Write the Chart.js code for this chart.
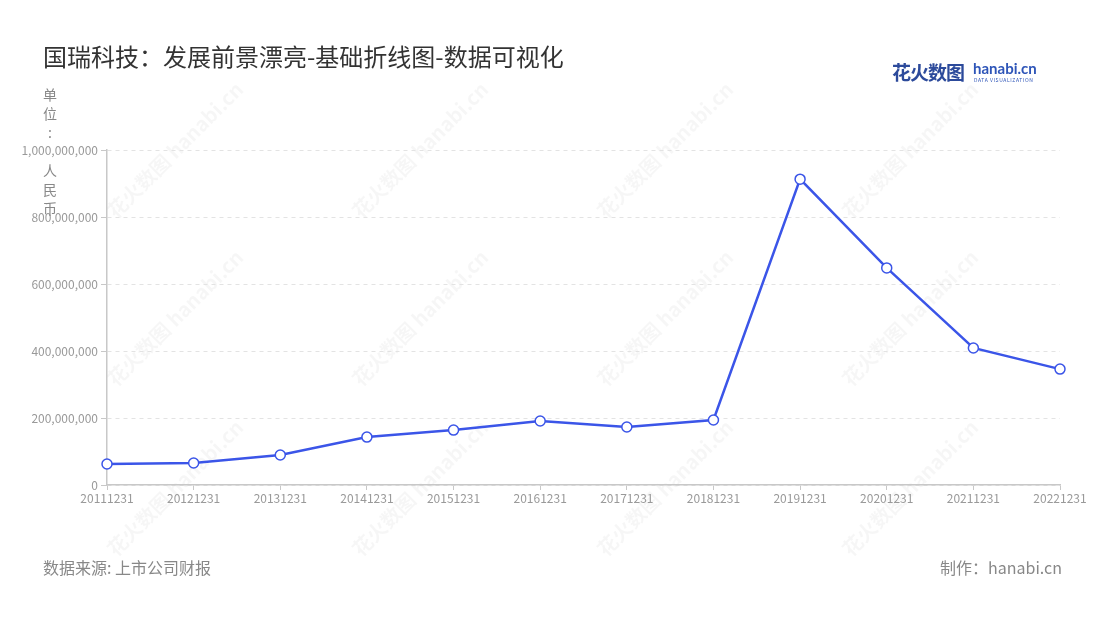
<!DOCTYPE html>
<html>
<head>
<meta charset="utf-8">
<script src="https://cdn.jsdelivr.net/npm/chart.js@4/dist/chart.umd.min.js"></script>
<style>
  body { margin: 0; background: #fff; font-family: "Noto Sans CJK SC", "Noto Sans", sans-serif; }
  #wrap { position: relative; width: 1100px; height: 620px; overflow: hidden; }
  #myChart { position: absolute; left: 0; top: 0; }
  .title { position: absolute; left: 43px; top: 38px; font-size: 24px; color: #333; }
  .unit { position: absolute; left: 42px; top: 85px; width: 16px; font-size: 14px; line-height: 19px; color: #888; text-align: center; }
  .src { position: absolute; left: 43px; top: 555px; font-size: 16px; color: #888; }
  .made { position: absolute; right: 38px; top: 555px; font-size: 16px; color: #888; }
  .logo { position: absolute; left: 892px; top: 58px; color: #2c4a9b; white-space: nowrap; }
  .logo .cn { font-size: 19px; font-weight: bold; letter-spacing: -1px; }
  .logo .en { position: absolute; left: 81px; top: 1px; font-size: 15px; font-weight: bold; color: #2e55b8; font-family: "Lato", sans-serif; }
  .logo .sub { position: absolute; left: 82px; top: 18px; font-size: 5px; letter-spacing: 0.6px; color: #2e55b8; }
</style>
</head>
<body>
<div id="wrap">
  <canvas id="myChart" width="1100" height="620"></canvas>
  <div class="title">国瑞科技：发展前景漂亮-基础折线图-数据可视化</div>
  <div class="unit">单<br>位<br>:<br>&nbsp;<br>人<br>民<br>币</div>
  <div class="logo"><span class="cn">花火数图</span><span class="en">hanabi.cn</span><span class="sub">DATA VISUALIZATION</span></div>
  <div class="src">数据来源: 上市公司财报</div>
  <div class="made">制作：hanabi.cn</div>
</div>
<script>
// 报告期
const periods = ['20111231', '20121231', '20131231', '20141231', '20151231', '20161231',
  '20171231', '20181231', '20191231', '20201231', '20211231', '20221231'];
// 数值（人民币）
const values = [62700000, 65700000, 89600000, 143000000, 164000000, 191000000,
  173000000, 194000000, 913000000, 648000000, 409000000, 346000000];
const yTicks = [0, 200000000, 400000000, 600000000, 800000000, 1000000000];

const lineColor = 'rgb(59, 85, 232)';

// faint watermark like the original
const watermark = {
  id: 'watermark',
  beforeDraw(chart) {
    const c = chart.ctx;
    c.save();
    c.fillStyle = 'rgba(0,0,0,0.035)';
    c.font = 'bold 20px "Noto Sans CJK SC"';
    const xs = [175, 420, 665, 910];
    const ys = [150, 318, 488];
    xs.forEach(x => ys.forEach(y => {
      c.save();
      c.translate(x, y);
      c.rotate(-Math.PI / 4);
      c.textAlign = 'center';
      c.textBaseline = 'middle';
      c.fillText('花火数图 hanabi.cn', 0, 0);
      c.restore();
    }));
    c.restore();
  }
};

const config = {
  type: 'line',
  data: {
    labels: periods,
    datasets: [{
      data: values,
      borderColor: lineColor,
      borderWidth: 2.5,
      backgroundColor: '#fff',
      pointBackgroundColor: '#fff',
      pointBorderColor: lineColor,
      pointBorderWidth: 1.5,
      pointRadius: 5,
      tension: 0,
      fill: false
    }]
  },
  options: {
    responsive: false,
    animation: false,
    layout: { padding: { top: 150, left: 0, right: 40, bottom: 105 } },
    plugins: {
      legend: { display: false },
      tooltip: { enabled: false }
    },
    scales: {
      x: {
        offset: false,
        afterFit(scale) { scale.height = 30; },
        border: { color: '#c8c8c8', width: 1.5 },
        grid: { drawOnChartArea: false, tickLength: 5, color: '#c8c8c8', tickColor: '#c8c8c8' },
        ticks: {
          color: '#999',
          font: { size: 12, family: 'Noto Sans CJK SC' },
          maxRotation: 0,
          autoSkip: false,
          padding: 1
        }
      },
      y: {
        min: 0,
        max: 1000000000,
        afterFit(scale) { scale.width = 107; },
        afterBuildTicks(scale) { scale.ticks = yTicks.map(v => ({ value: v })); },
        border: { color: '#c8c8c8', width: 1.5, dash: [4, 4] },
        grid: {
          color: '#e3e3e3',
          tickColor: '#c8c8c8',
          tickBorderDash: [],
          tickLength: 6,
          lineWidth: 1
        },
        ticks: {
          color: '#999',
          font: { size: 12, family: 'Noto Sans CJK SC' },
          padding: 3,
          callback: v => v.toLocaleString('en-US')
        }
      }
    }
  },
  plugins: [watermark]
};

const ctx = document.getElementById('myChart').getContext('2d');
const chart = new Chart(ctx, config);
</script>
</body>
</html>
